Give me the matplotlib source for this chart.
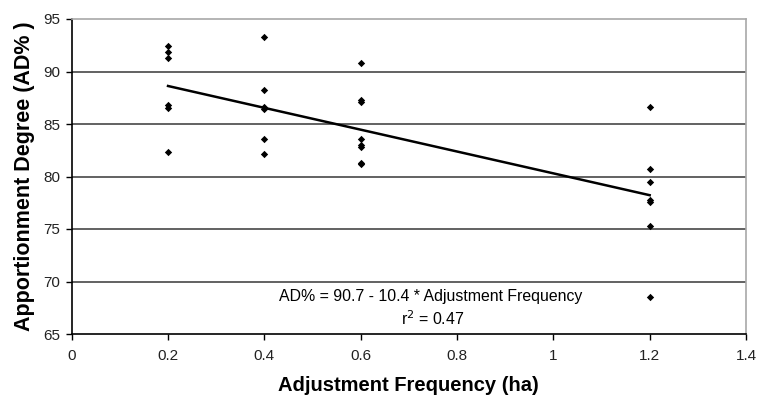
import matplotlib
matplotlib.use("Agg")
import matplotlib.pyplot as plt
import numpy as np

plt.rcParams['font.family'] = ['Liberation Sans', 'DejaVu Sans']

freq = [0.2]*6 + [0.4]*6 + [0.6]*8 + [1.2]*7
ad = [92.4, 91.9, 91.3, 86.8, 86.5, 82.3,
      93.3, 88.2, 86.6, 86.4, 83.6, 82.1,
      90.8, 87.3, 87.1, 83.6, 83.0, 82.8, 81.2, 81.3,
      86.6, 80.7, 79.5, 77.8, 77.6, 75.3, 68.5]
fit_intercept = 90.7
fit_slope = -10.4
fit_x = [0.2, 1.2]
xticks = [0, 0.2, 0.4, 0.6, 0.8, 1, 1.2, 1.4]
yticks = [65, 70, 75, 80, 85, 90, 95]

fig = plt.figure(figsize=(7.58, 3.97), dpi=100)
ax = fig.add_axes([71.7/758, 1-334/397, (746-71.7)/758, (334-19)/397])

for y in yticks[1:-1]:
    ax.axhline(y, color='#555555', lw=1.3, zorder=1)

ax.scatter(freq, ad, marker='D', s=14, color='black', zorder=3, linewidths=0)
fx = np.array(fit_x)
ax.plot(fx, fit_intercept + fit_slope*fx, color='black', lw=1.8, zorder=2)

ax.set_xlim(0, 1.4)
ax.set_ylim(65, 95)
ax.set_xticks(xticks)
ax.set_xticklabels(['0', '0.2', '0.4', '0.6', '0.8', '1', '1.2', '1.4'])
ax.set_yticks(yticks)
ax.tick_params(direction='out', length=4, width=1, labelsize=11, colors='black', labelcolor='#222222')
ax.tick_params(axis='x', pad=7)
ax.tick_params(axis='y', pad=4)

for s in ['top', 'right']:
    ax.spines[s].set_color('#a8a8a8')
    ax.spines[s].set_linewidth(1.2)
for s in ['left', 'bottom']:
    ax.spines[s].set_color('black')
    ax.spines[s].set_linewidth(1.2)

ax.set_xlabel('Adjustment Frequency (ha)', fontsize=14.5, fontweight='bold', labelpad=9)
ax.set_ylabel('Apportionment Degree (AD% )', fontsize=15.5, fontweight='bold', labelpad=6)

ax.text(0.745, 68.6, 'AD% = 90.7 - 10.4 * Adjustment Frequency', ha='center', va='center', fontsize=11.4)
ax.text(0.75, 66.5, r'r$^2$ = 0.47', ha='center', va='center', fontsize=11.4)

fig.savefig('out.png', dpi=100)
